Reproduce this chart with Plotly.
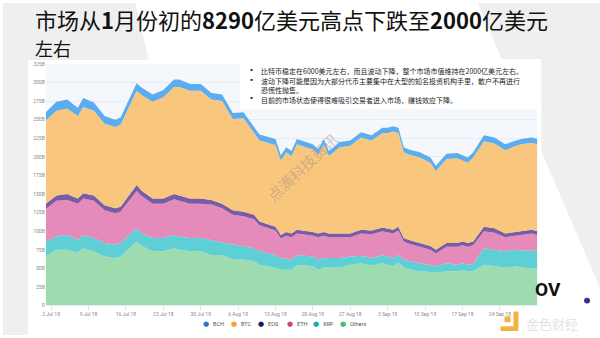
import plotly.graph_objects as go

W, H = 600, 338

# Market capitalisation by coin, billions of USD
dates = [
    "2018-07-01", "2018-07-03", "2018-07-05", "2018-07-07", "2018-07-08", "2018-07-10",
    "2018-07-12", "2018-07-14", "2018-07-15", "2018-07-18", "2018-07-19", "2018-07-21",
    "2018-07-23", "2018-07-25", "2018-07-26", "2018-07-28", "2018-07-30", "2018-08-01",
    "2018-08-03", "2018-08-05", "2018-08-07", "2018-08-09", "2018-08-10", "2018-08-13",
    "2018-08-14", "2018-08-15", "2018-08-16", "2018-08-17", "2018-08-20", "2018-08-21",
    "2018-08-22", "2018-08-23", "2018-08-25", "2018-08-27", "2018-08-29", "2018-08-31",
    "2018-09-02", "2018-09-03", "2018-09-04", "2018-09-05", "2018-09-06", "2018-09-07",
    "2018-09-09", "2018-09-11", "2018-09-12", "2018-09-14", "2018-09-16", "2018-09-17",
    "2018-09-18", "2018-09-19", "2018-09-21", "2018-09-23", "2018-09-25", "2018-09-27",
    "2018-09-28", "2018-09-30", "2018-10-01",
]
others = [66, 75, 75, 71, 77, 73, 66, 64, 66, 86, 80, 73, 73, 77, 75, 73, 73, 68,
          68, 62, 62, 60, 55, 51, 48, 48, 48, 55, 53, 48, 51, 51, 51, 55, 57, 54,
          57, 55, 53, 58, 51, 49, 46, 45, 44, 46, 46, 48, 46, 46, 55, 53, 51, 53,
          51, 50, 50]
xrp = [20, 18, 20, 17, 18, 18, 18, 18, 18, 18, 17, 18, 18, 18, 18, 18, 18, 20,
       16, 20, 18, 17, 18, 17, 16, 15, 14, 13, 13, 14, 13, 13, 13, 11, 10, 10,
       11, 11, 11, 10, 11, 11, 11, 10, 9, 11, 9, 9, 9, 10, 22, 22, 22, 22,
       23, 24, 23]
eth = [44, 48, 47, 49, 49, 50, 44, 42, 42, 50, 50, 46, 46, 48, 48, 46, 46, 48,
       47, 40, 40, 39, 35, 33, 26, 31, 30, 29, 28, 30, 30, 28, 28, 26, 30, 32,
       32, 33, 33, 33, 24, 23, 22, 20, 17, 22, 24, 24, 24, 25, 23, 23, 19, 19,
       21, 23, 22]
eos = [7, 7, 8, 7, 7, 7, 7, 7, 7, 8, 7, 7, 7, 7, 7, 7, 7, 6,
       6, 6, 6, 6, 5, 5, 5, 5, 5, 5, 5, 5, 5, 5, 5, 5, 5, 5,
       5, 5, 5, 5, 5, 5, 5, 5, 5, 5, 5, 5, 5, 5, 6, 6, 5, 5,
       5, 5, 5]
btc = [112, 114, 115, 111, 116, 114, 110, 109, 110, 127, 129, 130, 136, 144, 146, 145, 145, 135,
       138, 123, 126, 111, 109, 110, 100, 107, 104, 115, 111, 106, 118, 104, 116, 118, 124, 121,
       127, 128, 132, 126, 115, 115, 115, 112, 106, 113, 114, 109, 108, 113, 115, 114, 112, 116,
       117, 117, 117]
bch = [11, 12, 12, 11, 12, 11, 10, 10, 10, 10, 10, 10, 10, 10, 10, 9, 9, 9,
       9, 8, 8, 8, 8, 8, 7, 7, 7, 7, 7, 7, 7, 7, 7, 7, 7, 7,
       7, 7, 7, 7, 7, 7, 7, 7, 7, 7, 7, 7, 7, 7, 8, 8, 8, 7,
       7, 7, 7]

series_names = ["Others", "XRP", "ETH", "EOS", "BTC", "BCH"]
series_values = [others, xrp, eth, eos, btc, bch]
fill_colors = {"Others": "#9edcb0", "XRP": "#5fcfd6", "ETH": "#e58bb9",
               "EOS": "#7a5ca6", "BTC": "#f8c67c", "BCH": "#5cadf0"}
legend_order = ["BCH", "BTC", "EOS", "ETH", "XRP", "Others"]
legend_colors = {"BCH": "#1f78d1", "BTC": "#f0a22e", "EOS": "#1c1660",
                 "ETH": "#d6407f", "XRP": "#17a8b6", "Others": "#4cbd6a"}

y_ticks = list(range(0, 326, 25))
y_labels = ["0"] + [f"{v}B" for v in y_ticks[1:]]
x_ticks = ["2018-07-02", "2018-07-09", "2018-07-16", "2018-07-23", "2018-07-30",
           "2018-08-06", "2018-08-13", "2018-08-20", "2018-08-27", "2018-09-03",
           "2018-09-10", "2018-09-17", "2018-09-24"]

title_line1 = "市场从<b>1</b>月份初的<b>8290</b>亿美元高点下跌至<b>2000</b>亿美元"
title_line2 = "左右"
bullets = [
    "比特币稳定在6000美元左右，而且波动下降，整个市场市值维持在2000亿美元左右。",
    "波动下降可能是因为大部分代币主要集中在大型的知名投资机构手里，散户不再进行<br>恐慌性抛售。",
    "目前的市场状态使得很难吸引交易者进入市场，赚钱效应下降。",
]
watermark = "点滴科技资讯"


def px(x):
    return x / W


def py(y):
    return 1 - y / H


fig = go.Figure()
for name, vals in zip(series_names, series_values):
    fig.add_trace(go.Scatter(
        x=dates, y=vals, name=name, stackgroup="one", mode="lines",
        line=dict(width=0, color=fill_colors[name]), fillcolor=fill_colors[name],
        showlegend=False,
    ))

PL, PR, PT, PB = 43, 537, 62, 308
CJK = "Noto Sans CJK SC"

shapes = [
    # slide background panels
    dict(type="path", xref="paper", yref="paper", layer="below",
         path=f"M 0 1 L {px(133)} 1 L {px(212)} 0 L 0 0 Z",
         fillcolor="#efefef", line=dict(width=0)),
    dict(type="path", xref="paper", yref="paper", layer="below",
         path=f"M {px(477)} 1 L 1 1 L 1 {py(290)} Z",
         fillcolor="#efefef", line=dict(width=0)),
    # chart card
    dict(type="rect", xref="paper", yref="paper", layer="below",
         x0=px(25), x1=px(541), y0=0, y1=py(58),
         fillcolor="white", line=dict(width=0)),
    # plot background
    dict(type="rect", xref="paper", yref="paper", layer="below",
         x0=px(PL), x1=px(PR), y0=py(PB), y1=py(PT),
         fillcolor="#f4f8fc", line=dict(width=0)),
    # text box
    dict(type="rect", xref="paper", yref="paper", layer="above",
         x0=px(238), x1=px(541), y0=py(108), y1=py(57),
         fillcolor="white", line=dict(width=0)),
    # logo marks
    dict(type="circle", xref="paper", yref="paper", layer="above",
         x0=px(584), x1=px(590), y0=py(306), y1=py(300),
         fillcolor="#3b2d8f", line=dict(width=0)),
    dict(type="path", xref="paper", yref="paper", layer="above",
         path=(f"M {px(513)} {py(314)} L {px(518)} {py(314)} L {px(518)} {py(334)} "
               f"L {px(500)} {py(334)} L {px(500)} {py(329)} L {px(513)} {py(329)} Z"),
         fillcolor="#f2b441", line=dict(width=0)),
    dict(type="rect", xref="paper", yref="paper", layer="above",
         x0=px(504), x1=px(510), y0=py(325), y1=py(319),
         fillcolor="#f2b441", line=dict(width=0)),
]

annotations = [
    dict(text=title_line1, x=px(30), y=py(16.5), xref="paper", yref="paper",
         xanchor="left", yanchor="middle", showarrow=False,
         font=dict(family=CJK, size=22, color="#111111")),
    dict(text=title_line2, x=px(30), y=py(45.5), xref="paper", yref="paper",
         xanchor="left", yanchor="middle", showarrow=False,
         font=dict(family=CJK, size=18, color="#111111")),
    dict(text=watermark, x=px(300), y=py(167), xref="paper", yref="paper",
         showarrow=False, textangle=-43,
         font=dict(family=CJK, size=15, color="rgba(165,145,135,0.5)")),
    dict(text="<b>OV</b>", x=px(563), y=py(305), xref="paper", yref="paper",
         showarrow=False, font=dict(family="Roboto", size=19, color="#111111")),
    dict(text="金色财经", x=px(524), y=py(326), xref="paper", yref="paper",
         xanchor="left", yanchor="middle", showarrow=False,
         font=dict(family=CJK, size=13, color="#e3e3e3")),
]

bullet_y = [67, 77, 96]
for text, yy in zip(bullets, bullet_y):
    annotations.append(dict(text="▪", x=px(250), y=py(yy), xref="paper", yref="paper",
                            xanchor="center", yanchor="middle", showarrow=False,
                            font=dict(family=CJK, size=7, color="#1c1660")))
    annotations.append(dict(text=text, x=px(257), y=py(yy - 4.5), xref="paper", yref="paper",
                            xanchor="left", yanchor="top", align="left", showarrow=False,
                            font=dict(family=CJK, size=7, color="#222222")))

legend_x = [204, 232, 259, 288, 315, 342]
for name, lx in zip(legend_order, legend_x):
    annotations.append(dict(text="●", x=px(lx), y=py(327), xref="paper", yref="paper",
                            xanchor="center", yanchor="middle", showarrow=False,
                            font=dict(family="DejaVu Sans", size=7, color=legend_colors[name])))
    annotations.append(dict(text=name, x=px(lx + 5), y=py(327), xref="paper", yref="paper",
                            xanchor="left", yanchor="middle", showarrow=False,
                            font=dict(family="Roboto", size=5.5, color="#555555")))

fig.update_layout(
    width=W, height=H, autosize=False,
    margin=dict(l=0, r=0, t=0, b=0),
    paper_bgcolor="white", plot_bgcolor="rgba(0,0,0,0)",
    showlegend=False,
    shapes=shapes, annotations=annotations,
    xaxis=dict(
        domain=[px(PL), px(PR)], range=["2018-07-01", "2018-10-01"],
        tickvals=x_ticks, tickformat="%-d %b %y",
        tickfont=dict(family="Roboto", size=5, color="#8a8a8a"),
        ticks="outside", ticklen=3, tickcolor="#d8dde3",
        showgrid=False, zeroline=False, showline=False,
    ),
    yaxis=dict(
        domain=[py(PB), py(PT)], range=[0, 325],
        tickvals=y_ticks, ticktext=y_labels,
        tickfont=dict(family="Roboto", size=5, color="#8a8a8a"),
        showgrid=True, gridcolor="#e6ecf2", gridwidth=1,
        zeroline=False, showline=False, ticks="",
    ),
)

fig.write_html("out.html")
